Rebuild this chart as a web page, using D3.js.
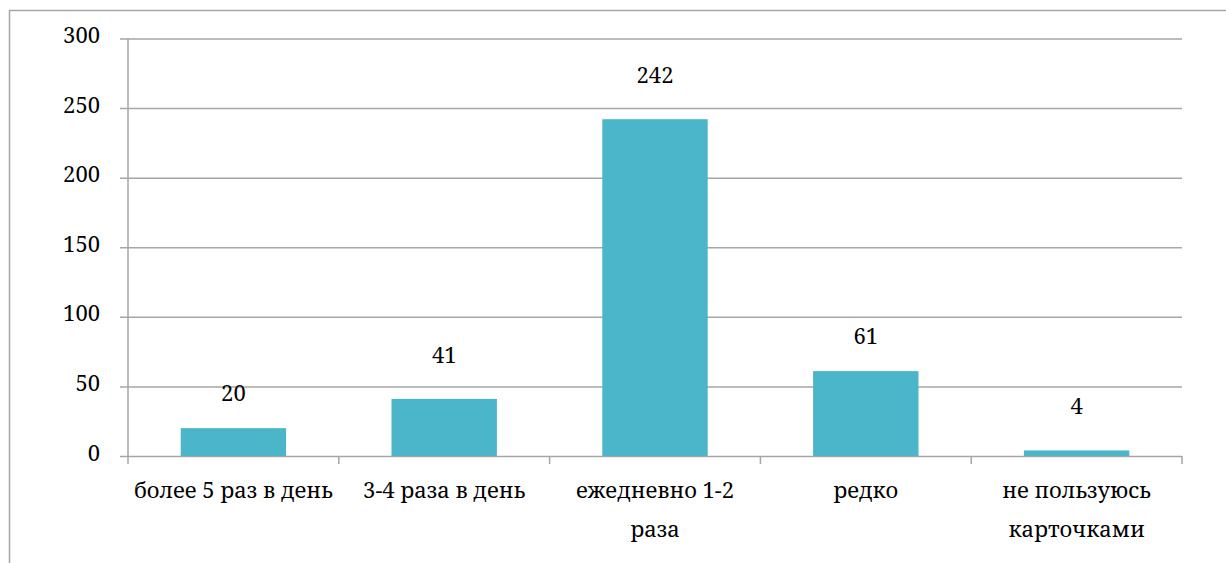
<!DOCTYPE html>
<html>
<head>
<meta charset="utf-8">
<script src="https://cdn.jsdelivr.net/npm/d3@7"></script>
<style>
  body { margin: 0; background: #fff; }
</style>
</head>
<body>
<svg width="1226" height="563"></svg>
<script>
const categories = ["более 5 раз в день", "3-4 раза в день", "ежедневно 1-2 раза", "редко", "не пользуюсь карточками"];
const values = [20, 41, 242, 61, 4];
const yTicks = [0, 50, 100, 150, 200, 250, 300];

const svg = d3.select("svg");
const width = +svg.attr("width");
const height = +svg.attr("height");

const margin = { top: 38.5, right: 44, bottom: 107, left: 128 };
const innerWidth = width - margin.left - margin.right;
const innerHeight = height - margin.top - margin.bottom;

const gridColor = "#a6a6a6";
const font = '"Noto Serif", "Liberation Serif", serif';
const fontSize = 22;

// outer frame (cut off on right/bottom like the source)
svg.append("path")
  .attr("d", `M9.5,${height} V10.5 H${width}`)
  .attr("fill", "none")
  .attr("stroke", "#a6a6a6")
  .attr("stroke-width", 1.5);

const g = svg.append("g")
  .attr("transform", `translate(${margin.left},${margin.top})`);

const data = categories.map((c, i) => ({ cat: c, value: values[i] }));

const xScale = d3.scaleBand()
  .domain(categories)
  .range([0, innerWidth])
  .paddingInner(0.5)
  .paddingOuter(0.25);

const yScale = d3.scaleLinear()
  .domain([0, 300])
  .range([innerHeight, 0]);

// y axis with gridlines
const yAxis = d3.axisLeft(yScale)
  .tickValues(yTicks)
  .tickSize(-innerWidth)
  .tickPadding(0)
  .tickFormat(d3.format("d"));

const yAxisG = g.append("g").call(yAxis)
  .attr("font-family", font)
  .attr("font-size", fontSize);
yAxisG.select(".domain").remove();
yAxisG.selectAll(".tick line")
  .attr("x1", -8)
  .attr("stroke", gridColor)
  .attr("stroke-width", 1.5);
yAxisG.selectAll(".tick text")
  .attr("x", -28)
  .attr("dy", null)
  .attr("y", 4)
  .attr("fill", "#000");

// vertical axis line
g.append("line")
  .attr("x1", 0).attr("x2", 0)
  .attr("y1", 0).attr("y2", innerHeight)
  .attr("stroke", gridColor)
  .attr("stroke-width", 1.5);

// x axis: ticks at band boundaries
const xAxisG = g.append("g")
  .attr("transform", `translate(0,${innerHeight})`)
  .attr("font-family", font)
  .attr("font-size", fontSize);
const boundaries = d3.range(categories.length + 1).map((i) => i * innerWidth / categories.length);
xAxisG.selectAll("line.xtick")
  .data(boundaries)
  .enter()
  .append("line")
  .attr("class", "xtick")
  .attr("x1", (d) => d).attr("x2", (d) => d)
  .attr("y1", 0).attr("y2", 8)
  .attr("stroke", gridColor)
  .attr("stroke-width", 1.5);

// category labels, wrapped to band width (one text element per line)
const wrapWidth = innerWidth / categories.length;
const measure = xAxisG.append("text");

categories.forEach((cat) => {
  const lines = [];
  let line = [];
  cat.split(" ").forEach((w) => {
    line.push(w);
    measure.text(line.join(" "));
    if (measure.node().getComputedTextLength() > wrapWidth && line.length > 1) {
      line.pop();
      lines.push(line.join(" "));
      line = [w];
    }
  });
  lines.push(line.join(" "));

  xAxisG.selectAll(null)
    .data(lines)
    .enter()
    .append("text")
    .attr("text-anchor", "middle")
    .attr("x", xScale(cat) + xScale.bandwidth() / 2)
    .attr("y", (d, i) => 42 + i * 39)
    .text((d) => d);
});
measure.remove();

// bars
g.selectAll("rect.bar")
  .data(data)
  .enter()
  .append("rect")
  .attr("class", "bar")
  .attr("x", (d) => xScale(d.cat))
  .attr("y", (d) => yScale(d.value))
  .attr("width", xScale.bandwidth())
  .attr("height", (d) => innerHeight - yScale(d.value))
  .attr("fill", "#4bb5c9");

// value labels: sit above the bar, nudged closer when a gridline would cross them
const labelY = (d) => {
  const top = yScale(d.value);
  const base = top - 36;
  const hit = yTicks.some((t) => {
    const gy = yScale(t);
    return gy >= base - 20 && gy <= base + 2;
  });
  return hit ? top - 27 : base;
};

g.append("g")
  .attr("font-family", font)
  .attr("font-size", fontSize)
  .selectAll("text.val")
  .data(data)
  .enter()
  .append("text")
  .attr("class", "val")
  .attr("text-anchor", "middle")
  .attr("x", (d) => xScale(d.cat) + xScale.bandwidth() / 2)
  .attr("y", labelY)
  .text((d) => d.value);
</script>
</body>
</html>
